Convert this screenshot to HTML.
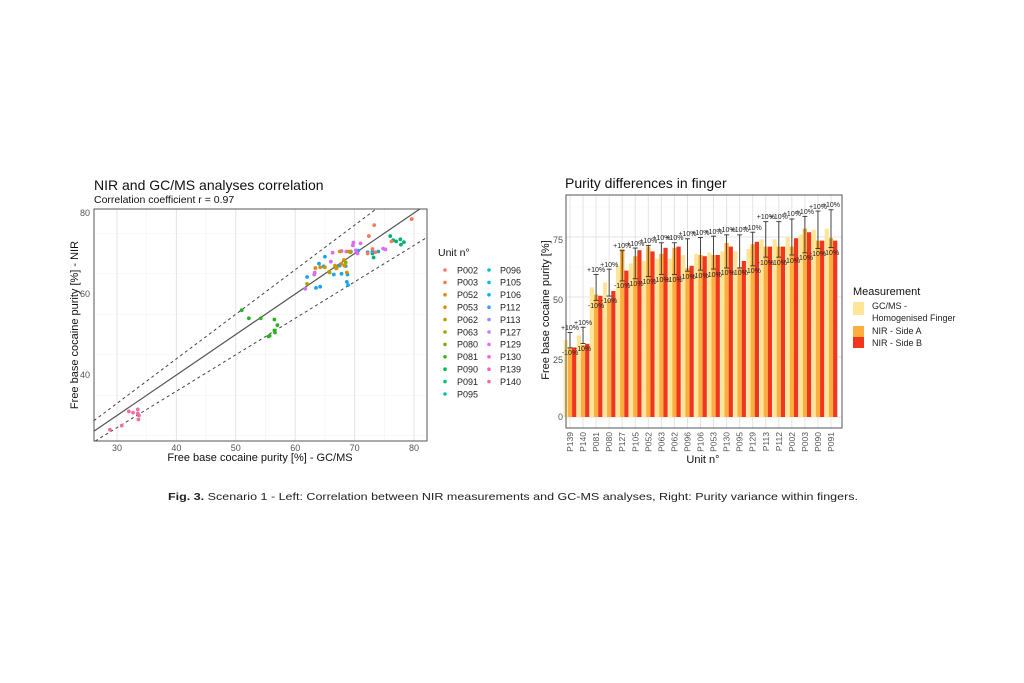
<!DOCTYPE html>
<html><head><meta charset="utf-8"><style>
html,body{margin:0;padding:0;background:#fff}
svg{display:block;font-family:"Liberation Sans",sans-serif}
</style></head><body>
<svg id="s" width="1024" height="683" viewBox="0 0 1024 683" xmlns="http://www.w3.org/2000/svg">
<rect width="1024" height="683" fill="#fff"/>
<!-- LEFT CHART -->
<text x="94" y="190" font-size="14" fill="#111">NIR and GC/MS analyses correlation</text>
<text x="94" y="203" font-size="10.5" fill="#111">Correlation coefficient r = 0.97</text>
<g id="lgrid"></g>
<rect x="94" y="209" width="333" height="232" fill="none" stroke="#555" stroke-width="1"/>
<g font-size="9" fill="#555" text-anchor="end">
<text x="90" y="216">80</text><text x="90" y="297">60</text><text x="90" y="378">40</text>
</g>
<g font-size="9" fill="#555" text-anchor="middle">
<text x="117" y="451">30</text><text x="176.4" y="451">40</text><text x="235.8" y="451">50</text><text x="295.2" y="451">60</text><text x="354.6" y="451">70</text><text x="414" y="451">80</text>
</g>
<text x="260" y="461" font-size="11" fill="#111" text-anchor="middle">Free base cocaine purity [%] - GC/MS</text>
<text transform="translate(78,325) rotate(-90)" font-size="11" fill="#111" text-anchor="middle">Free base cocaine purity [%] - NIR</text>
<g id="lpts"></g>
<text x="438" y="256" font-size="10.5" fill="#111">Unit n°</text>
<g id="lleg" font-size="9" fill="#222"></g>
<!-- RIGHT CHART -->
<text x="565" y="188" font-size="14" fill="#111">Purity differences in finger</text>
<g id="rgrid"></g>
<g id="bars"></g>
<rect x="566" y="195" width="276" height="233" fill="none" stroke="#555" stroke-width="1"/>
<g font-size="9" fill="#555" text-anchor="end">
<text x="563" y="420">0</text><text x="563" y="363">25</text><text x="563" y="303">50</text><text x="563" y="243">75</text>
</g>
<text transform="translate(549,310) rotate(-90)" font-size="11" fill="#111" text-anchor="middle">Free base cocaine purity [%]</text>
<g font-size="8.5" fill="#555" text-anchor="end">
<text transform="translate(573,432) rotate(-90)">P139</text>
<text transform="translate(586.1,432) rotate(-90)">P140</text>
<text transform="translate(599.1,432) rotate(-90)">P081</text>
<text transform="translate(612.2,432) rotate(-90)">P080</text>
<text transform="translate(625.2,432) rotate(-90)">P127</text>
<text transform="translate(638.3,432) rotate(-90)">P105</text>
<text transform="translate(651.3,432) rotate(-90)">P052</text>
<text transform="translate(664.4,432) rotate(-90)">P063</text>
<text transform="translate(677.4,432) rotate(-90)">P062</text>
<text transform="translate(690.5,432) rotate(-90)">P096</text>
<text transform="translate(703.5,432) rotate(-90)">P106</text>
<text transform="translate(716.6,432) rotate(-90)">P053</text>
<text transform="translate(729.6,432) rotate(-90)">P130</text>
<text transform="translate(742.7,432) rotate(-90)">P095</text>
<text transform="translate(755.7,432) rotate(-90)">P129</text>
<text transform="translate(768.8,432) rotate(-90)">P113</text>
<text transform="translate(781.8,432) rotate(-90)">P112</text>
<text transform="translate(794.9,432) rotate(-90)">P002</text>
<text transform="translate(807.9,432) rotate(-90)">P003</text>
<text transform="translate(821,432) rotate(-90)">P090</text>
<text transform="translate(834,432) rotate(-90)">P091</text>
</g>
<text x="703" y="463" font-size="11" fill="#111" text-anchor="middle">Unit n°</text>
<g font-size="7" fill="#222" text-anchor="middle">
<text x="570" y="330">+10%</text><text x="570" y="355">-10%</text>
<text x="583.1" y="325">+10%</text><text x="583.1" y="351">-10%</text>
<text x="596.1" y="272">+10%</text><text x="596.1" y="308">-10%</text>
<text x="609.2" y="267">+10%</text><text x="609.2" y="303">-10%</text>
<text x="622.2" y="248">+10%</text><text x="622.2" y="288">-10%</text>
<text x="635.3" y="246">+10%</text><text x="635.3" y="286">-10%</text>
<text x="648.3" y="243">+10%</text><text x="648.3" y="284">-10%</text>
<text x="661.4" y="240">+10%</text><text x="661.4" y="282">-10%</text>
<text x="674.4" y="240">+10%</text><text x="674.4" y="282">-10%</text>
<text x="687.5" y="236">+10%</text><text x="687.5" y="279">-10%</text>
<text x="700.5" y="235">+10%</text><text x="700.5" y="278">-10%</text>
<text x="713.6" y="234">+10%</text><text x="713.6" y="277">-10%</text>
<text x="726.6" y="232">+10%</text><text x="726.6" y="275">-10%</text>
<text x="739.7" y="232">+10%</text><text x="739.7" y="275">-10%</text>
<text x="752.7" y="230">+10%</text><text x="752.7" y="273">-10%</text>
<text x="765.8" y="219">+10%</text><text x="765.8" y="265">-10%</text>
<text x="778.8" y="219">+10%</text><text x="778.8" y="265">-10%</text>
<text x="791.9" y="216">+10%</text><text x="791.9" y="263">-10%</text>
<text x="804.9" y="214">+10%</text><text x="804.9" y="260">-10%</text>
<text x="818" y="209">+10%</text><text x="818" y="256">-10%</text>
<text x="831" y="207">+10%</text><text x="831" y="255">-10%</text>
</g>
<text x="853" y="295" font-size="11" fill="#111">Measurement</text>
<rect x="853" y="302" width="11" height="13" fill="#FDE69A"/>
<rect x="853" y="326" width="11" height="11" fill="#FDAE3E"/>
<rect x="853" y="337" width="11" height="11" fill="#F0361E"/>
<g font-size="9" fill="#222">
<text x="872" y="309">GC/MS -</text>
<text x="872" y="321">Homogenised Finger</text>
<text x="872" y="334">NIR - Side A</text>
<text x="872" y="346">NIR - Side B</text>
</g>
<!-- CAPTION -->
<text x="168" y="500" font-size="10.5" fill="#222" textLength="690" lengthAdjust="spacingAndGlyphs"><tspan font-weight="bold">Fig. 3.</tspan> Scenario 1 - Left: Correlation between NIR measurements and GC-MS analyses, Right: Purity variance within fingers.</text>
</svg>
<script>
var NS="http://www.w3.org/2000/svg";
function el(p,t,a){var e=document.createElementNS(NS,t);for(var k in a)e.setAttribute(k,a[k]);document.getElementById(p).appendChild(e);return e;}
function LX(v){return 117+(v-30)*5.94;} function LY(v){return 294-(v-60)*4.05;}
var g="lgrid";
for(var v=25;v<=80;v+=5){var x=LX(v);if(x>94&&x<427)el(g,"line",{x1:x,x2:x,y1:209,y2:441,stroke:v%10==0?"#e4e4e4":"#f2f2f2","stroke-width":v%10==0?1:0.6});}
for(var v=25;v<=80;v+=10){var y=LY(v);if(y>209&&y<441)el(g,"line",{x1:94,x2:427,y1:y,y2:y,stroke:v%20==0?"#e4e4e4":"#f2f2f2","stroke-width":v%20==0?1:0.6});}
function clipLine(k,dash){var x0=26.1,x1=82.2;var a=[LX(x0),LY(k*x0)],b=[LX(x1),LY(k*x1)];
 if(b[1]<209){var t=(a[1]-209)/(a[1]-b[1]);b=[a[0]+(b[0]-a[0])*t,209];}
 if(a[1]>441){var t=(a[1]-441)/(a[1]-b[1]);a=[a[0]+(b[0]-a[0])*t,441];}
 var o={x1:a[0],y1:a[1],x2:b[0],y2:b[1],stroke:dash?"#444":"#555","stroke-width":dash?1:1.2};if(dash)o["stroke-dasharray"]="3,3";el("lpts","line",o);}
clipLine(1,false);clipLine(1.1,true);clipLine(0.9,true);
var pts=[
["#F46FA0",[[28.8,26.5],[30.8,27.5],[32,31],[32.7,30.7],[33.5,31.5],[33.7,30],[33.6,29],[33.5,30.5]]],
["#2CB11E",[[51,56],[52.2,54],[54.2,54],[56.5,53.7],[57,52.3],[56.5,51],[56.6,50.5],[55.5,49.5],[55.7,49.7]]],
["#00B079",[[76,74.3],[76.5,73.3],[77,73],[77.7,73.5],[78.3,72.8],[77.8,72.2],[73.2,69],[73,70]]],
["#1CA3E8",[[62,64.2],[63.5,61.5],[64.2,61.8],[64,67.5],[64.8,66.8],[65,69.2],[66.5,64.8],[67.5,67],[67.8,65],[68.5,66.9],[68.7,63],[68.9,62.2],[68.8,64.8],[72.2,70.3],[73,70.5],[74,70.5],[70.6,70.7]]],
["#D76FF0",[[61.7,61.3],[63.2,64.8],[63.3,65.3],[66,68],[66.3,70.2],[69.8,72.7],[69.7,72],[70.5,70],[71,72.5],[70.2,70.8],[68.6,70.5],[69.4,70.5],[74.8,71.2],[75.2,71],[67.8,70.6]]],
["#D39200",[[63.4,66.4],[64.2,66.6],[65,66.6],[65.7,65.5],[66.7,67],[67,66.5],[67.8,67.5],[68.2,68.4],[68.3,67],[68.7,65.3],[69,70.5],[67.5,70.5],[66.9,66.3]]],
["#F37B59",[[72.4,74.3],[73.3,77],[73,71.1],[72.2,70],[76.2,73],[79.6,78.5],[73.5,70.3]]],
["#A3A500",[[62,62.5],[65.8,65.3],[68.5,67.8],[69.3,70.3]]]];
pts.forEach(function(s){s[1].forEach(function(p){el("lpts","circle",{cx:LX(p[0]),cy:LY(p[1]),r:1.9,fill:s[0]});});});
var c1=["#F8766D","#F07E4B","#E58700","#D39200","#C09B00","#A3A500","#7CAE00","#39B600","#00BB4E","#00BF7D","#00C1A3"];
var c2=["#00BFC4","#00BAE0","#00B0F6","#35A2FF","#9590FF","#C77CFF","#E76BF3","#FA62DB","#FF62BC","#FF6C91"];
var n1=["P002","P003","P052","P053","P062","P063","P080","P081","P090","P091","P095"];
var n2=["P096","P105","P106","P112","P113","P127","P129","P130","P139","P140"];
for(var i=0;i<11;i++){var y=270+i*12.4;el("lleg","circle",{cx:445,cy:y,r:1.8,fill:c1[i]});var t=el("lleg","text",{x:457,y:y+3.3});t.textContent=n1[i];}
for(var i=0;i<10;i++){var y=270+i*12.4;el("lleg","circle",{cx:489,cy:y,r:1.8,fill:c2[i]});var t=el("lleg","text",{x:500,y:y+3.3});t.textContent=n2[i];}
function RY(v){return 417-2.4*v;}
for(var v=0;v<=87.5;v+=12.5){var y=RY(v);el("rgrid","line",{x1:566,x2:842,y1:y,y2:y,stroke:v%25==0?"#e4e4e4":"#f2f2f2","stroke-width":v%25==0?1:0.6});}
var D=[[32,29,29],[34,30,30.5],[54,51,50.5],[56,49,52.5],[63,70,61],[64,67,69.5],[65,71,69],[66,68,70.5],[66,70.5,71],[67.5,62,63],[68,67.5,67],[68.5,67.5,67.5],[69,72.5,71],[69,62,65],[70,72,73],[74,71,71],[74,71,71],[75,71,74.5],[76,78.5,77],[78,73.5,73.5],[78.5,74.5,73.5]];
for(var i=0;i<21;i++){var cx=570+13.05*i;el("rgrid","line",{x1:cx,x2:cx,y1:195,y2:428,stroke:"#e4e4e4","stroke-width":1});}
var cols=["#FDE69A","#FDAE3E","#F0361E"];
D.forEach(function(d,i){var cx=570+13.05*i;for(var j=0;j<3;j++){var x=cx-6.3+j*4.2;el("bars","rect",{x:x,y:RY(d[j]),width:4.2,height:2.4*d[j],fill:cols[j]});}
 var t=RY(d[0]*1.1),b=RY(d[0]*0.9);
 el("bars","line",{x1:cx,x2:cx,y1:t,y2:b,stroke:"#333","stroke-width":0.9});
 el("bars","line",{x1:cx-2.5,x2:cx+2.5,y1:t,y2:t,stroke:"#333","stroke-width":0.9});
 el("bars","line",{x1:cx-2.5,x2:cx+2.5,y1:b,y2:b,stroke:"#333","stroke-width":0.9});});
</script>
</body></html>
